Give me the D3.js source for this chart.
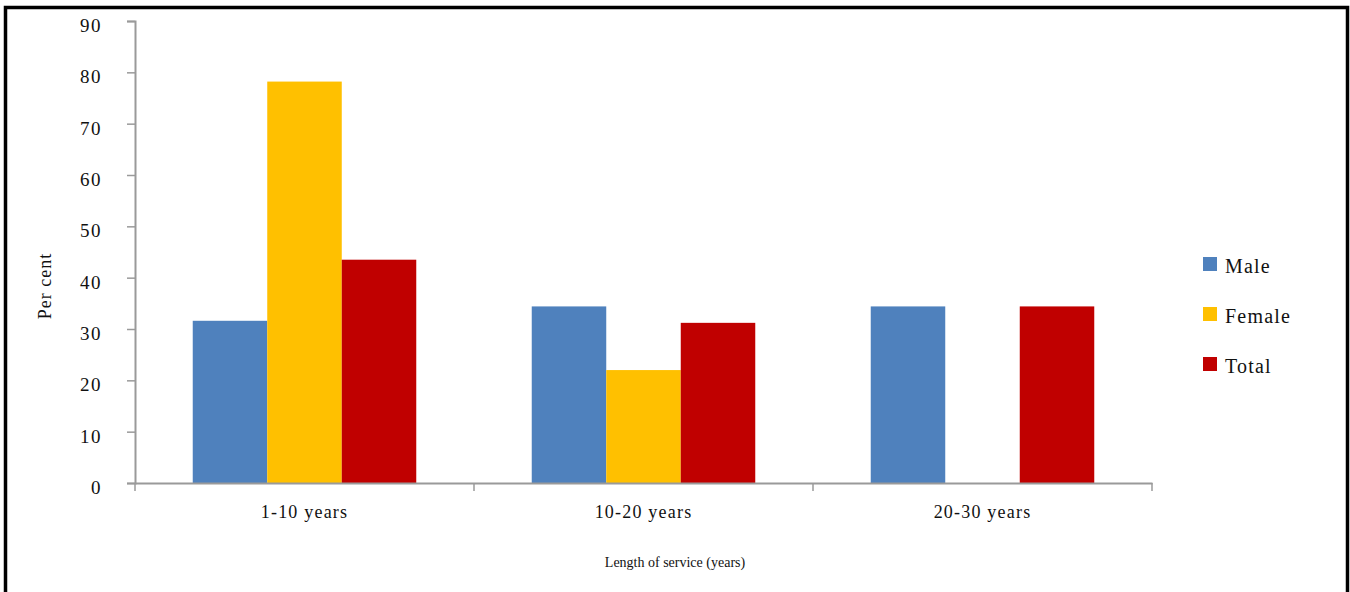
<!DOCTYPE html>
<html>
<head>
<meta charset="utf-8">
<script src="https://cdn.jsdelivr.net/npm/d3@7"></script>
<style>
  html, body { margin: 0; padding: 0; background: #fff; }
  svg text { font-family: "Liberation Serif", "Times New Roman", serif; fill: #111; }
</style>
</head>
<body>
<div id="vis"></div>
<script>
const categories = ['1-10 years', '10-20 years', '20-30 years'];
const seriesNames = ['Male', 'Female', 'Total'];
const male = [31.6, 34.4, 34.4];
const female = [78.2, 22.0, 0];
const total = [43.5, 31.2, 34.4];
const yTicks = [0, 10, 20, 30, 40, 50, 60, 70, 80, 90];
const colors = ['#4f81bd', '#ffc000', '#c00000'];

const W = 1350, H = 592;
const margin = { top: 21, left: 135, right: 198, bottom: 109 };
const width = W - margin.left - margin.right;
const height = H - margin.top - margin.bottom;

const svgRoot = d3.select('#vis').append('svg')
    .attr('width', W).attr('height', H);

// outer frame
svgRoot.append('rect')
    .attr('x', 5.5).attr('y', 7.5)
    .attr('width', W - 8).attr('height', H)
    .attr('fill', 'none').attr('stroke', '#000').attr('stroke-width', 3.5);

const svg = svgRoot.append('g')
    .attr('transform', `translate(${margin.left},${margin.top})`);

const x0 = d3.scaleBand().domain(categories).range([0, width]).paddingInner(0).paddingOuter(0);
const x1 = d3.scaleBand().domain(seriesNames).range([0, x0.bandwidth()]).paddingOuter(0.775).paddingInner(0);
const y = d3.scaleLinear().domain([0, 90]).range([height, 0]);

const data = categories.map((c, i) => ({
    cat: c,
    values: [male[i], female[i], total[i]]
}));

// bars
svg.selectAll('.group')
    .data(data)
    .enter()
    .append('g')
    .attr('class', 'group')
    .attr('transform', d => `translate(${x0(d.cat)},0)`)
    .selectAll('rect')
    .data(d => d.values.map((v, j) => ({ name: seriesNames[j], value: v, color: colors[j] })))
    .enter()
    .append('rect')
    .attr('x', d => x1(d.name))
    .attr('width', x1.bandwidth())
    .attr('y', d => y(d.value))
    .attr('height', d => height - y(d.value))
    .attr('fill', d => d.color);

// y axis
const yAxis = svg.append('g')
    .attr('class', 'axis')
    .call(d3.axisLeft(y).tickValues(yTicks).tickSize(8).tickSizeOuter(8).tickPadding(25));
yAxis.select('.domain').attr('stroke', '#9a9a9a').attr('stroke-width', 2);
yAxis.selectAll('.tick line').attr('stroke', '#9a9a9a').attr('stroke-width', 1.5);
yAxis.selectAll('.tick text')
    .style('font-size', '19px')
    .style('letter-spacing', '1.5px')
    .attr('dy', '0.55em');

// x axis
const xAxis = svg.append('g')
    .attr('class', 'axis')
    .attr('transform', `translate(0,${height})`)
    .call(d3.axisBottom(x0).tickSize(0).tickPadding(22));
xAxis.select('.domain').attr('stroke', '#9a9a9a').attr('stroke-width', 2);
xAxis.selectAll('.tick text')
    .style('font-size', '18px')
    .style('letter-spacing', '1.2px');

// category boundary ticks
const bounds = [0].concat(categories.map(c => x0(c) + x0.bandwidth()));
xAxis.selectAll('.bound')
    .data(bounds)
    .enter()
    .append('line')
    .attr('class', 'bound')
    .attr('x1', d => d).attr('x2', d => d)
    .attr('y1', 0).attr('y2', 8)
    .attr('stroke', '#9a9a9a').attr('stroke-width', 1.5);

// axis titles
svg.append('text')
    .attr('transform', 'rotate(-90)')
    .attr('x', -(286 - margin.top))
    .attr('y', -margin.left + 51)
    .attr('text-anchor', 'middle')
    .style('font-size', '18px')
    .style('letter-spacing', '1px')
    .text('Per cent');

svg.append('text')
    .attr('x', 675 - margin.left)
    .attr('y', height + 84)
    .attr('text-anchor', 'middle')
    .style('font-size', '14px')
    .text('Length of service (years)');

// legend
const legend = svgRoot.append('g')
    .attr('transform', 'translate(1203, 257)');
legend.selectAll('.legend-item')
    .data(seriesNames)
    .enter()
    .append('g')
    .attr('class', 'legend-item')
    .attr('transform', (d, i) => `translate(0, ${i * 50})`)
    .each(function (d, i) {
        d3.select(this).append('rect')
            .attr('width', 14).attr('height', 14)
            .attr('fill', colors[i]);
        d3.select(this).append('text')
            .attr('x', 22).attr('y', 16)
            .style('font-size', '20px')
            .style('letter-spacing', '1.2px')
            .text(d);
    });
</script>
</body>
</html>
